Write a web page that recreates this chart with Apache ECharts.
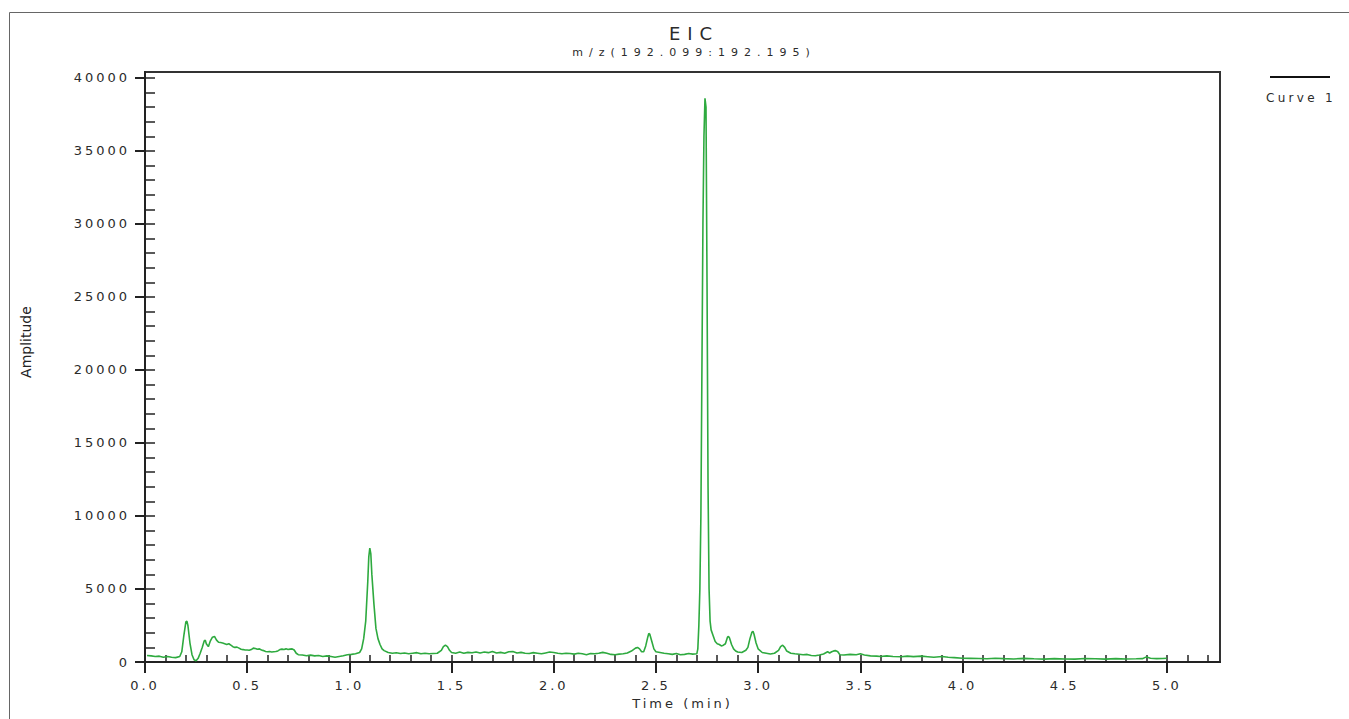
<!DOCTYPE html>
<html>
<head>
<meta charset="utf-8">
<title>EIC</title>
<script src="https://cdn.jsdelivr.net/npm/echarts@6/dist/echarts.min.js"></script>
<style>
  html, body { margin: 0; padding: 0; background: #fff; }
  #main { width: 1349px; height: 719px; }
  /* 原图文字都是拉开字距的，按字号区分 */
  #main text[style*="18px"] { letter-spacing: 7px; }
  #main text[style*="11px"] { letter-spacing: 6px; }
  #main text[style*="13px"] { letter-spacing: 3px; }
  #main text[style*="12px"] { letter-spacing: 3.3px; }
</style>
</head>
<body>
<div id="main"></div>
<script>
// 时间 (min)
var timeMin = [
  0.01, 0.03, 0.05, 0.07, 0.09, 0.11, 0.13, 0.15, 0.17, 0.18, 0.19, 0.20, 0.205, 0.21, 0.22, 0.23, 0.24, 0.25, 0.26, 0.27,
  0.28, 0.29, 0.295, 0.30, 0.31, 0.32, 0.33, 0.34, 0.35, 0.36, 0.37, 0.38, 0.39, 0.40, 0.41, 0.42, 0.43, 0.44, 0.45, 0.46,
  0.47, 0.48, 0.49, 0.50, 0.51, 0.52, 0.53, 0.54, 0.55, 0.56, 0.57, 0.58, 0.59, 0.60, 0.61, 0.62, 0.63, 0.64, 0.65, 0.66,
  0.67, 0.68, 0.69, 0.70, 0.71, 0.72, 0.73, 0.74, 0.75, 0.77, 0.79, 0.81, 0.83, 0.85, 0.87, 0.89, 0.91, 0.93, 0.95, 0.97,
  0.99, 1.01, 1.03, 1.05, 1.06, 1.07, 1.08, 1.09, 1.095, 1.10, 1.105, 1.11, 1.12, 1.13, 1.14, 1.15, 1.16, 1.17, 1.19, 1.21,
  1.23, 1.25, 1.27, 1.29, 1.31, 1.33, 1.35, 1.37, 1.39, 1.41, 1.43, 1.45, 1.46, 1.47, 1.48, 1.49, 1.50, 1.52, 1.54, 1.56,
  1.58, 1.60, 1.62, 1.64, 1.66, 1.68, 1.70, 1.72, 1.74, 1.76, 1.78, 1.80, 1.82, 1.84, 1.86, 1.88, 1.90, 1.92, 1.94, 1.96,
  1.98, 2.00, 2.02, 2.04, 2.06, 2.08, 2.10, 2.12, 2.14, 2.16, 2.18, 2.20, 2.22, 2.24, 2.26, 2.28, 2.30, 2.32, 2.34, 2.36,
  2.38, 2.40, 2.41, 2.42, 2.43, 2.44, 2.45, 2.46, 2.465, 2.47, 2.48, 2.49, 2.50, 2.52, 2.54, 2.56, 2.58, 2.60, 2.62, 2.64,
  2.66, 2.68, 2.70, 2.705, 2.71, 2.715, 2.72, 2.725, 2.73, 2.735, 2.74, 2.745, 2.75, 2.755, 2.76, 2.765, 2.77, 2.78, 2.79, 2.80,
  2.81, 2.82, 2.83, 2.84, 2.85, 2.855, 2.86, 2.87, 2.88, 2.89, 2.90, 2.92, 2.94, 2.95, 2.96, 2.97, 2.975, 2.98, 2.99, 3.00,
  3.02, 3.04, 3.06, 3.08, 3.10, 3.11, 3.12, 3.13, 3.14, 3.16, 3.18, 3.20, 3.22, 3.24, 3.26, 3.28, 3.30, 3.32, 3.34, 3.35,
  3.36, 3.37, 3.38, 3.39, 3.40, 3.42, 3.45, 3.48, 3.50, 3.52, 3.55, 3.58, 3.60, 3.63, 3.66, 3.70, 3.73, 3.76, 3.80, 3.83,
  3.86, 3.90, 3.93, 3.96, 4.00, 4.04, 4.08, 4.12, 4.16, 4.20, 4.25, 4.30, 4.35, 4.40, 4.45, 4.50, 4.55, 4.60, 4.65, 4.70,
  4.75, 4.80, 4.85, 4.88, 4.90, 4.92, 4.95, 4.98, 5.00
];
// 强度
var amplitude = [
  450, 420, 380, 400, 330, 380, 320, 300, 380, 700, 1800, 2750, 2800, 2500, 1300, 500, 150, 80, 250, 600,
  1000, 1450, 1500, 1250, 1050, 1450, 1700, 1750, 1500, 1350, 1330, 1300, 1250, 1200, 1250, 1150, 1050, 1000, 1020, 950,
  870, 850, 820, 820, 800, 850, 950, 930, 870, 900, 820, 780, 720, 700, 720, 680, 700, 720, 760, 850,
  880, 860, 900, 850, 880, 900, 820, 600, 500, 480, 430, 470, 420, 450, 380, 420, 380, 330, 380, 430,
  500, 520, 560, 650, 900, 1600, 2800, 5500, 7200, 7800, 7400, 6000, 4000, 2300, 1600, 1200, 900, 780, 650, 600,
  630, 580, 620, 560, 600, 640, 560, 600, 560, 580, 600, 800, 1050, 1150, 1050, 800, 650, 600, 680, 600,
  660, 630, 690, 620, 680, 640, 720, 620, 660, 600, 700, 720, 620, 660, 600, 580, 640, 600, 560, 620,
  680, 650, 600, 560, 600, 580, 540, 600, 560, 500, 580, 560, 600, 660, 600, 520, 500, 540, 560, 620,
  750, 950, 1000, 900, 700, 700, 1100, 1700, 1950, 1900, 1400, 900, 700, 650, 600, 560, 520, 580, 500, 520,
  580, 540, 560, 900, 2500, 5000, 10000, 20000, 30000, 36000, 38600, 38000, 26000, 12000, 5000, 2800, 2200, 1800, 1400, 1250,
  1200, 1100, 1150, 1250, 1700, 1750, 1650, 1200, 900, 750, 680, 650, 800, 1000, 1600, 2050, 2100, 1900, 1300, 900,
  650, 600, 550, 600, 800, 1050, 1150, 1000, 750, 600, 560, 530, 500, 520, 450, 430, 480, 550, 700, 620,
  700, 760, 780, 700, 500, 480, 520, 500, 560, 480, 420, 400, 380, 420, 380, 360, 400, 370, 400, 360,
  320, 380, 330, 300, 260, 250, 240, 220, 260, 230, 210, 250, 220, 200, 230, 210, 200, 240, 220, 200,
  230, 210, 220, 230, 350, 260, 230, 240, 260
];
// 刻度
var xMajorTicks = [0, 0.5, 1.0, 1.5, 2.0, 2.5, 3.0, 3.5, 4.0, 4.5, 5.0];
var yMajorTicks = [0, 5000, 10000, 15000, 20000, 25000, 30000, 35000, 40000];
var titleText = 'EIC';
var subTitleText = 'm/z(192.099:192.195)';
var seriesName = 'Curve 1';

var xMinorTicks = [];
for (var i = 0; i <= 52; i++) {
  xMinorTicks.push(Math.round(i * 10) / 100);
}
var yMinorTicks = [];
for (var j = 0; j <= 40; j++) {
  yMinorTicks.push(j * 1000);
}

var curveData = [];
for (var k = 0; k < timeMin.length; k++) {
  curveData.push([timeMin[k], amplitude[k]]);
}

var font = 'DejaVu Sans';
var axisColor = '#222';
var textColor = '#2b2b2b';
var chart = echarts.init(document.getElementById('main'), null, { renderer: 'svg' });

var option = {
  animation: false,
  backgroundColor: '#fff',
  title: {
    text: titleText,
    subtext: subTitleText,
    left: 689,
    top: 19,
    textAlign: 'center',
    itemGap: 5,
    textStyle: { fontFamily: font, fontSize: 18, fontWeight: 'normal', color: textColor },
    subtextStyle: { fontFamily: font, fontSize: 11, color: textColor }
  },
  legend: {
    data: [seriesName],
    left: 1255,
    top: 87,
    itemWidth: 0,
    itemHeight: 0,
    selectedMode: false,
    textStyle: { fontFamily: font, fontSize: 12, color: textColor }
  },
  grid: {
    left: 145,
    right: 129,
    top: 72,
    bottom: 57,
    show: true,
    borderColor: '#333',
    borderWidth: 2
  },
  xAxis: [
    {
      type: 'value',
      min: 0,
      max: 5.26,
      interval: 0.5,
      position: 'bottom',
      name: 'Time (min)',
      nameLocation: 'middle',
      nameGap: 30,
      nameTextStyle: { fontFamily: font, fontSize: 13, color: textColor },
      axisLine: { show: true, onZero: false, lineStyle: { color: axisColor, width: 2 } },
      axisTick: { show: true, inside: false, length: 11, customValues: xMajorTicks, lineStyle: { color: axisColor, width: 2 } },
      axisLabel: {
        customValues: xMajorTicks,
        margin: 17,
        fontFamily: font,
        fontSize: 13,
        color: textColor,
        formatter: function (v) { return v.toFixed(1); }
      },
      splitLine: { show: false }
    },
    {
      type: 'value',
      min: 0,
      max: 5.26,
      interval: 0.1,
      position: 'bottom',
      axisLine: { show: false, onZero: false },
      axisTick: { show: true, inside: true, length: 7, customValues: xMinorTicks, lineStyle: { color: axisColor, width: 1.5 } },
      axisLabel: { show: false },
      splitLine: { show: false }
    }
  ],
  yAxis: [
    {
      type: 'value',
      min: 0,
      max: 40400,
      interval: 5000,
      position: 'left',
      axisLine: { show: true, onZero: false, lineStyle: { color: axisColor, width: 2 } },
      axisTick: { show: true, inside: false, length: 10, customValues: yMajorTicks, lineStyle: { color: axisColor, width: 2 } },
      axisLabel: {
        customValues: yMajorTicks,
        margin: 15,
        fontFamily: font,
        fontSize: 13,
        color: textColor,
        formatter: function (v) { return String(v); }
      },
      splitLine: { show: false }
    },
    {
      type: 'value',
      min: 0,
      max: 40400,
      interval: 1000,
      position: 'left',
      axisLine: { show: false, onZero: false },
      axisTick: { show: true, inside: true, length: 10, customValues: yMinorTicks, lineStyle: { color: axisColor, width: 1.5 } },
      axisLabel: { show: false },
      splitLine: { show: false }
    }
  ],
  graphic: [
    {
      // 外框
      type: 'rect',
      silent: true,
      z: -10,
      shape: { x: 9.5, y: 12.5, width: 1400, height: 800 },
      style: { fill: 'none', stroke: '#666', lineWidth: 1 }
    },
    {
      // 图例的线
      type: 'line',
      silent: true,
      shape: { x1: 1270, y1: 77, x2: 1330, y2: 77 },
      style: { stroke: '#111', lineWidth: 2 }
    },
    {
      type: 'text',
      silent: true,
      x: 26,
      y: 342,
      rotation: Math.PI / 2,
      style: {
        text: 'Amplitude',
        fontFamily: font,
        fontSize: 14,
        fill: '#222',
        align: 'center',
        verticalAlign: 'middle'
      }
    }
  ],
  series: [
    {
      name: seriesName,
      type: 'line',
      xAxisIndex: 0,
      yAxisIndex: 0,
      showSymbol: false,
      data: curveData,
      lineStyle: { color: '#2eaa3f', width: 1.6 },
      itemStyle: { color: '#2eaa3f' }
    }
  ]
};
chart.setOption(option);
</script>
</body>
</html>
